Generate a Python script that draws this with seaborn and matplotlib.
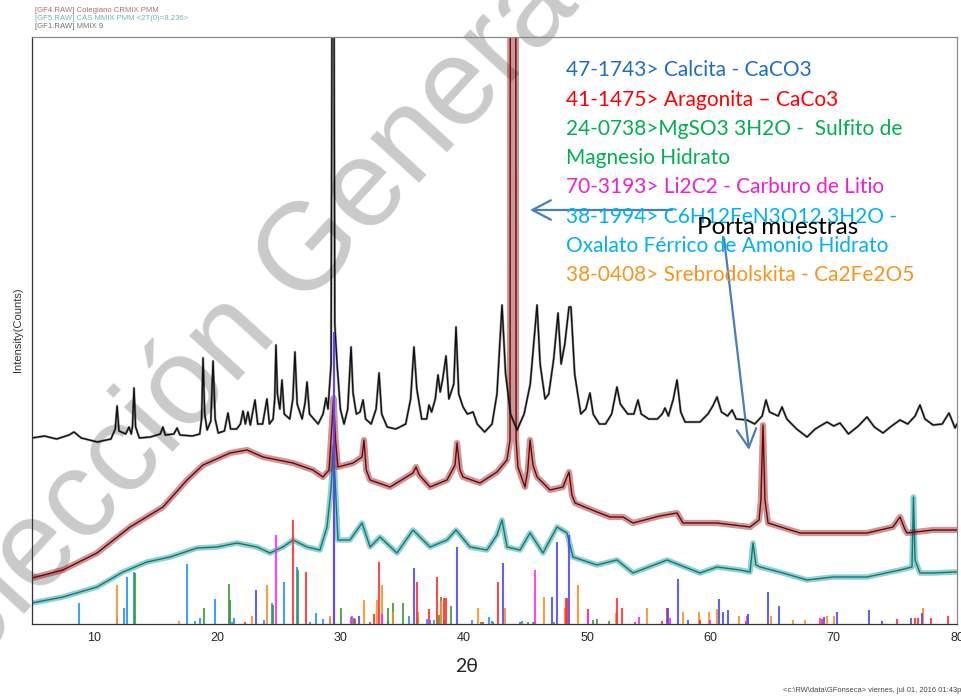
import numpy as np
import pandas as pd
import seaborn as sns
import matplotlib
matplotlib.use("Agg")
import matplotlib.pyplot as plt

# ---------------- measured patterns (2-theta in degrees, intensity in counts) ----------------
gf1_2theta = [5.0, 6.0, 7.0, 8.0, 8.4, 9.0, 10.3, 11.4, 11.75, 11.9, 12.05, 12.6, 12.87, 13.05, 13.15,
              13.27, 13.4, 13.7, 14.6, 15.4, 15.62, 15.8, 16.5, 16.76, 17.0, 18.0, 18.6, 18.75, 18.87,
              19.0, 19.2, 19.5, 19.68, 19.85, 20.1, 20.6, 20.89, 21.1, 21.6, 21.9, 22.11, 22.3, 22.51,
              22.7, 23.08, 23.3, 23.7, 24.05, 24.25, 24.55, 24.68, 24.78, 24.9, 25.1, 25.27, 25.45,
              25.9, 26.15, 26.32, 26.5, 26.9, 27.15, 27.3, 27.5, 28.2, 28.6, 28.84, 29.0, 29.25, 29.41,
              29.55, 29.73, 30.0, 30.3, 30.6, 30.87, 31.03, 31.3, 31.6, 31.84, 32.05, 32.5, 32.9, 33.14,
              33.35, 33.8, 34.5, 35.3, 35.7, 35.97, 36.2, 36.6, 37.0, 37.19, 37.4, 37.7, 37.92, 38.1,
              38.3, 38.57, 38.8, 39.2, 39.38, 39.6, 39.95, 40.3, 40.76, 41.1, 41.7, 42.3, 42.7, 43.11,
              43.4, 43.8, 44.33, 44.9, 45.4, 45.95, 46.2, 46.6, 46.9, 47.3, 47.65, 47.9, 48.2, 48.54,
              48.7, 49.0, 49.5, 49.9, 50.24, 50.5, 51.0, 51.5, 52.0, 52.43, 52.7, 53.0, 53.3, 53.8,
              54.13, 54.4, 55.0, 55.7, 56.1, 56.32, 56.6, 57.0, 57.3, 57.6, 57.95, 58.6, 59.16, 59.8,
              60.2, 60.54, 60.9, 61.4, 61.76, 62.1, 62.97, 63.6, 64.2, 64.51, 64.8, 65.5, 65.81, 66.2,
              67.0, 67.84, 68.5, 69.46, 70.0, 70.51, 71.2, 72.0, 72.7, 73.3, 74.0, 74.7, 75.38, 76.0,
              76.6, 77.0, 77.4, 78.06, 78.8, 79.35, 79.84, 80.0]
gf1_counts = [186, 188, 185, 189, 192, 186, 182, 185, 195, 218, 193, 190, 197, 190, 198,
              236, 197, 186, 187, 190, 197, 189, 190, 196, 189, 188, 190, 205, 266,
              210, 194, 203, 263, 205, 191, 193, 211, 195, 195, 200, 213, 200, 212,
              199, 224, 200, 200, 225, 200, 205, 225, 279, 230, 215, 244, 210,
              205, 225, 272, 220, 205, 222, 242, 210, 200, 210, 226, 215, 260, 1000,
              300, 261, 215, 200, 215, 277, 231, 210, 212, 224, 205, 200, 215, 251,
              210, 197, 195, 200, 225, 277, 235, 205, 205, 219, 212, 225, 249, 232,
              245, 268, 225, 240, 297, 230, 217, 210, 212, 200, 192, 200, 230, 319,
              250, 210, 194, 210, 240, 319, 260, 225, 230, 265, 311, 260, 280, 317,
              317, 250, 210, 215, 231, 210, 200, 200, 210, 237, 220, 215, 210, 210,
              224, 210, 205, 205, 210, 216, 208, 225, 244, 212, 202, 202, 202, 210,
              218, 227, 212, 208, 214, 205, 204, 200, 208, 224, 212, 208, 217, 205,
              195, 187, 195, 202, 198, 201, 190, 198, 207, 197, 191, 198, 204, 200,
              208, 219, 205, 199, 200, 211, 196, 200]

gf4_2theta = [5.0, 7.51, 10.27, 12.95, 15.62, 17.57, 18.87, 21.05, 22.43, 23.73, 26.16, 27.78, 28.59,
              29.08, 29.24, 29.45, 29.61, 29.81, 31.03, 31.76, 31.92, 32.1, 32.41, 34.03, 35.89, 36.14,
              36.4, 37.27, 38.65, 39.3, 39.46, 39.7, 39.95, 41.32, 42.7, 43.51, 43.76, 43.82, 44.18,
              44.25, 44.4, 44.97, 45.2, 45.38, 45.62, 45.95, 47.0, 48.05, 48.54, 48.78, 49.03, 50.81,
              51.86, 52.92, 53.73, 55.9, 57.3, 57.78, 60.54, 63.22, 63.95, 64.1, 64.27, 64.43, 64.68,
              67.27, 69.95, 72.7, 74.81, 75.38, 75.8, 75.95, 78.06, 79.84, 80.0]
gf4_counts = [46, 54, 71, 97, 117, 144, 159, 171, 174, 167, 161, 154, 147,
              154, 184, 226, 184, 157, 161, 167, 184, 154, 144, 137, 151, 157,
              149, 137, 144, 159, 181, 154, 147, 141, 152, 164, 184, 1500, 1500,
              184, 157, 137, 154, 184, 159, 147, 134, 137, 152, 129, 121, 112,
              107, 107, 101, 108, 111, 101, 101, 97, 104, 124, 199, 124, 101,
              91, 91, 91, 97, 107, 94, 91, 94, 94, 94]

gf5_2theta = [5.0, 7.51, 10.27, 12.38, 14.32, 16.19, 18.38, 20.0, 21.62, 23.24, 24.3, 25.35, 26.16,
              27.3, 28.35, 28.92, 29.24, 29.45, 29.65, 29.81, 30.78, 31.76, 32.41, 33.22, 34.59, 35.89,
              37.27, 38.65, 39.38, 40.51, 41.89, 42.7, 43.11, 43.51, 44.57, 45.38, 46.43, 47.57, 48.38,
              48.86, 50.81, 52.43, 53.73, 56.49, 59.16, 60.54, 62.41, 63.22, 63.46, 63.7, 64.03, 65.89,
              67.84, 69.95, 72.7, 75.38, 76.35, 76.47, 76.6, 77.0, 78.06, 79.84, 80.0]
gf5_counts = [21, 27, 37, 52, 62, 67, 76, 77, 81, 77, 71, 77, 84,
              77, 74, 97, 134, 177, 124, 84, 84, 101, 77, 87, 71, 94,
              77, 84, 94, 77, 74, 89, 104, 77, 74, 91, 71, 97, 91,
              67, 59, 64, 51, 64, 51, 57, 54, 52, 81, 59, 57, 51,
              44, 47, 47, 54, 57, 127, 64, 51, 51, 52, 52]

# ---------------- reference patterns (stick positions and relative heights) ----------------
calcita_pos = [23.16, 29.45, 31.54, 36.0, 39.44, 43.16, 47.19, 47.54, 48.54, 56.6, 57.4, 58.16,
               60.68, 61.05, 61.43, 63.08, 64.68, 65.6, 69.24, 70.25, 72.9, 73.9, 76.25, 77.14]
calcita_int = [34, 292, 8, 56, 77, 61, 27, 82, 89, 16, 45, 4,
               25, 12, 14, 10, 32, 18, 7, 12, 14, 3, 6, 11]

aragonita_pos = [22.27, 26.19, 27.2, 31.1, 32.7, 33.1, 36.2, 37.2, 37.86, 38.38, 38.55, 41.6, 42.8,
                 48.3, 48.4, 50.1, 52.41, 52.86, 53.9, 56.1, 56.5, 59.16, 62.9, 69.03, 75.16, 76.6,
                 76.8, 77.87, 79.3]
aragonita_int = [2, 104, 52, 6, 10, 62, 42, 15, 47, 26, 26, 2, 42,
                 26, 26, 15, 26, 16, 2, 3, 16, 4, 3, 5, 5, 6,
                 6, 6, 8]

sulfito_pos = [13.32, 18.92, 20.95, 21.08, 24.57, 26.6, 30.05, 31.2, 32.4, 33.9, 34.3, 35.1, 37.3,
               38.0, 38.2, 38.95, 41.4, 42.4, 44.6, 45.2, 45.6, 50.5, 50.8, 51.8]
sulfito_int = [51, 16, 40, 24, 19, 54, 16, 5, 2, 16, 21, 21, 4,
               9, 27, 18, 2, 2, 2, 2, 2, 4, 5, 3]

carburo_pos = [24.78, 29.52, 30.84, 33.35, 37.15, 45.76, 50.1, 54.2, 56.75, 60.0, 63.0, 68.9]
carburo_int = [89, 292, 7, 10, 4, 54, 11, 7, 6, 4, 8, 6]

oxalato_pos = [8.79, 11.9, 12.49, 12.68, 13.3, 17.6, 18.2, 18.65, 19.81, 21.24, 21.4, 23.81, 24.49,
               25.46, 26.5, 27.5, 28.0, 28.6, 29.2, 30.92, 33.9, 35.6, 36.3, 37.0, 37.6, 38.4, 40.7,
               42.08, 42.3, 44.75, 45.8, 47.3]
oxalato_int = [21, 6, 16, 47, 52, 60, 3, 6, 25, 2, 6, 4, 21,
               42, 57, 2, 11, 5, 6, 8, 3, 8, 6, 5, 4, 4, 4,
               7, 3, 3, 2, 2]

srebro_pos = [11.92, 16.9, 22.81, 24.03, 29.16, 31.92, 33.0, 33.35, 34.24, 36.33, 38.16, 41.14, 43.35,
              46.54, 48.2, 49.25, 52.33, 54.84, 57.75, 59.08, 59.92, 60.57, 62.3, 64.92, 66.7, 67.68,
              69.49, 70.0, 77.27]
srebro_int = [39, 3, 8, 39, 8, 24, 24, 39, 12, 12, 23, 16, 16,
              27, 16, 39, 11, 16, 12, 12, 12, 15, 8, 8, 4, 4,
              8, 8, 16]

x_ticks = list(range(6, 81, 2))
x_labels = [str(t) if t % 10 == 0 else "" for t in x_ticks]

legend_lines = ["47-1743> Calcita - CaCO3",
                "41-1475> Aragonita \u2013 CaCo3",
                "24-0738>MgSO3 3H2O -  Sulfito de",
                "Magnesio Hidrato",
                "70-3193> Li2C2 - Carburo de Litio",
                "38-1994> C6H12FeN3O12 3H2O -",
                "Oxalato F\u00e9rrico de Amonio Hidrato",
                "38-0408> Srebrodolskita - Ca2Fe2O5"]
legend_colors = ["#1F6FC0", "#FF0000", "#00B050", "#00B050", "#F01ED2", "#00B0F0", "#00B0F0", "#F7941D"]

header_lines = ["[GF4.RAW] Colegiano CRMIX PMM",
                "[GF5.RAW] CAS MMIX PMM <2T(0)=8.236>",
                "[GF1.RAW] MMIX 9"]
header_colors = ["#A04848", "#4FA0A0", "#505050"]

# ---------------- figure ----------------
sns.set_style("white")
plt.rcParams["font.family"] = ["Liberation Sans", "DejaVu Sans"]

W, H = 961, 698
fig = plt.figure(figsize=(W / 100, H / 100), dpi=100)
ax = fig.add_axes([32 / W, 1 - 624 / H, (957 - 32) / W, (624 - 37) / H])
ax.patch.set_alpha(0)

# watermark behind everything
fig.text(232 / W, 1 - 340 / H, "Colecci\u00f3n General", rotation=47.5, ha="center", va="center",
         fontsize=89, color="#CACACA", zorder=-5, family=["Liberation Sans", "DejaVu Sans"])

traces = [(gf5_2theta, gf5_counts, "#008080", 4.0),
          (gf4_2theta, gf4_counts, "#7A0000", 4.5),
          (gf1_2theta, gf1_counts, "#111111", 1.8)]
for xs, ys, col, band in traces:
    df = pd.DataFrame({"two_theta": xs, "counts": ys})
    sns.lineplot(data=df, x="two_theta", y="counts", sort=False, estimator=None,
                 color=col, lw=band, alpha=0.4, ax=ax)
    sns.lineplot(data=df, x="two_theta", y="counts", sort=False, estimator=None,
                 color=col, lw=1.0, ax=ax)

sticks = [(oxalato_pos, oxalato_int, "#1E90FF"),
          (sulfito_pos, sulfito_int, "#3A9A3A"),
          (srebro_pos, srebro_int, "#FF8C1A"),
          (aragonita_pos, aragonita_int, "#FF2A2A"),
          (carburo_pos, carburo_int, "#FF22FF"),
          (calcita_pos, calcita_int, "#4545FF")]
for pos, inten, col in sticks:
    ax.vlines(pos, 0, inten, colors=col, lw=1.5, alpha=0.85, zorder=4)

ax.set_xlim(5, 80)
ax.set_ylim(0, 587)
ax.set_xticks(x_ticks)
ax.set_xticklabels(x_labels)
ax.set_yticks([])
ax.tick_params(axis="x", direction="out", length=4, width=0.8, color="#333333",
               labelsize=9, pad=2)
ax.set_xlabel("")
ax.set_ylabel("")
for side, col in [("left", "#333333"), ("bottom", "#333333"), ("top", "#888888"), ("right", "#888888")]:
    ax.spines[side].set_visible(True)
    ax.spines[side].set_color(col)
    ax.spines[side].set_linewidth(0.9)

fig.text(467 / W, 1 - 667 / H, "2\u03b8", ha="center", va="center", fontsize=14,
         family=["Lato", "DejaVu Sans"])
fig.text(18 / W, 1 - 330 / H, "Intensity(Counts)", rotation=90, ha="center", va="center",
         fontsize=8, color="#333333")

for i, (txt, col) in enumerate(zip(header_lines, header_colors)):
    fig.text(35 / W, 1 - (10 + 8.5 * i) / H, txt, fontsize=5.6, color=col, ha="left", va="center", alpha=0.8)

fig.text(783 / W, 1 - 690 / H, "<c:\\RW\\data\\GFonseca> viernes, jul 01, 2016 01:43p", fontsize=5.4,
         color="#444444", ha="left", va="center")

# phase list
line_y = [70, 100, 129, 158, 187, 217, 246, 275]
for txt, col, yy in zip(legend_lines, legend_colors, line_y):
    fig.text(566 / W, 1 - yy / H, txt, fontsize=15, color=col, ha="left", va="center",
             family=["Lato", "DejaVu Sans"])

fig.text(697 / W, 1 - 228 / H, "Porta muestras", fontsize=17.5, color="black", ha="left", va="center",
         family=["Lato", "DejaVu Sans"])

arrow_kw = dict(arrowstyle="->, head_length=0.95, head_width=0.5", color="#4A7EBB", lw=1.6,
                mutation_scale=14, shrinkA=0, shrinkB=0)
ax.annotate("", xy=(530 / W, 1 - 210 / H), xytext=(672 / W, 1 - 210 / H),
            xycoords="figure fraction", textcoords="figure fraction", arrowprops=arrow_kw)
ax.annotate("", xy=(749 / W, 1 - 450 / H), xytext=(724 / W, 1 - 238 / H),
            xycoords="figure fraction", textcoords="figure fraction", arrowprops=arrow_kw)

fig.savefig("out.png", dpi=100)
